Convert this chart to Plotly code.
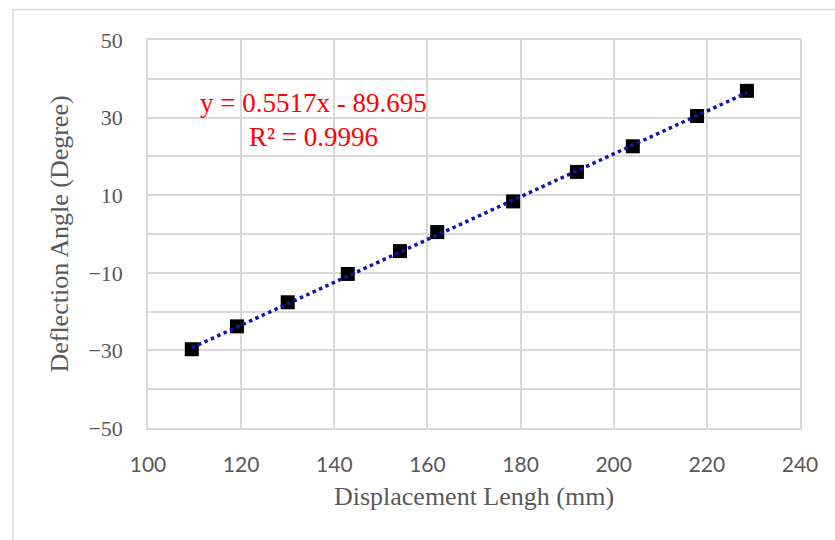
import numpy as np
import plotly.graph_objects as go

# Measured displacement length (mm) and deflection angle (degree)
displacement = [109.4, 119.1, 130.0, 142.9, 154.1, 162.1, 178.4, 192.1, 204.1, 217.9, 228.6]
deflection = [-29.7, -23.8, -17.6, -10.3, -4.4, 0.5, 8.4, 16.0, 22.6, 30.4, 36.9]

# Linear trendline coefficients
slope = 0.5517
intercept = -89.695
r_squared = 0.9996

x_ticks = [100, 120, 140, 160, 180, 200, 220, 240]
y_ticks = [-50, -30, -10, 10, 30, 50]
y_tick_text = ["\u221250", "\u221230", "\u221210", "10", "30", "50"]

grid = "#D9D9D9"
serif = "Liberation Serif, Palatino Linotype, serif"

x_fit = np.array([min(displacement), max(displacement)])
y_fit = slope * x_fit + intercept

fig = go.Figure()
fig.add_trace(go.Scatter(
    x=displacement, y=deflection, mode="markers",
    marker=dict(symbol="square", size=14, color="black"),
    showlegend=False,
))
fig.add_trace(go.Scatter(
    x=x_fit, y=y_fit, mode="lines",
    line=dict(color="#1414A8", width=3.5, dash="dot"),
    showlegend=False,
))

fig.add_annotation(
    x=0.2546, y=0.838, xref="paper", yref="paper",
    text=f"y = {slope}x - {abs(intercept)}", showarrow=False,
    font=dict(family=serif, size=27, color="#FF0000"), xanchor="center", yanchor="middle",
)
fig.add_annotation(
    x=0.2546, y=0.75, xref="paper", yref="paper",
    text=f"R\u00b2 = {r_squared}", showarrow=False,
    font=dict(family=serif, size=27, color="#FF0000"), xanchor="center", yanchor="middle",
)

# Light outer chart frame
fig.add_shape(
    type="rect", xref="paper", yref="paper",
    x0=(13 - 148) / 652, x1=(850 - 148) / 652,
    y0=(428 - 560) / 388, y1=(428 - 9.5) / 388,
    line=dict(color=grid, width=1.5), layer="below",
)

fig.update_xaxes(
    range=[100, 240], tickvals=x_ticks,
    showgrid=True, gridcolor=grid, gridwidth=1.5,
    showline=True, linecolor=grid, linewidth=1.5, mirror=True,
    zeroline=False, ticks="", ticklabelstandoff=17,
    tickfont=dict(family="Lato, Open Sans, sans-serif", size=21, color="#595959"),
    title=dict(text="Displacement Lengh (mm)", standoff=12,
               font=dict(family=serif, size=26, color="#595959")),
)
fig.update_yaxes(
    range=[-50, 50], tickvals=y_ticks, ticktext=y_tick_text,
    showgrid=True, gridcolor=grid, gridwidth=1.5,
    minor=dict(dtick=10, tick0=0, showgrid=True, gridcolor=grid, gridwidth=1.5),
    showline=True, linecolor=grid, linewidth=1.5, mirror=True,
    zeroline=False, ticks="", ticklabelstandoff=19,
    tickfont=dict(family=serif, size=22, color="#595959"),
    title=dict(text="Deflection Angle (Degree)", standoff=12,
               font=dict(family=serif, size=26, color="#595959")),
)

fig.update_layout(
    width=835, height=540,
    margin=dict(l=148, r=35, t=40, b=112),
    plot_bgcolor="white", paper_bgcolor="white",
)

fig.write_html("out.html")
